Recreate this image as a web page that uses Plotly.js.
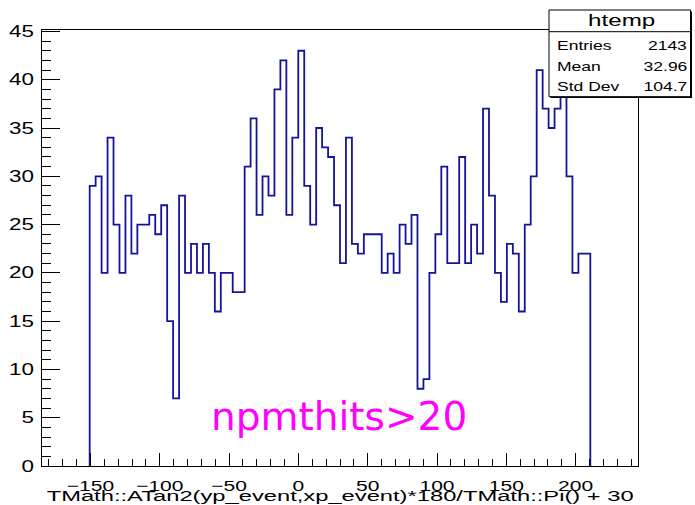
<!DOCTYPE html>
<html><head><meta charset="utf-8">
<script src="https://cdn.plot.ly/plotly-3.0.1.min.js"></script>
<style>html,body{margin:0;padding:0;background:#fff;} #plot{width:695px;height:505px;}</style>
</head><body><div id="plot"></div>
<script>
// ---- histogram definition (ROOT htemp, 100 bins) ----
const xMin = -185, xMax = 245, nBins = 100;
const counts = [
  0,0,0,0,0,0,0,0,
  29,30,20,34,25,20,28,22,25,25,
  26,24,27,15,7,28,20,23,20,23,
  20,16,20,20,18,18,31,36,26,30,
  28,39,42,26,34,43,29,25,35,33,
  32,27,21,34,23,22,24,24,24,20,
  22,20,25,23,26,8,9,20,24,31,
  21,21,32,21,25,22,37,28,20,17,
  23,22,16,25,30,41,37,35,37,40,
  30,20,22,22,
  0,0,0,0,0,0,0,0
];
const yMax = 45.15;
const histName = 'htemp';
const statLabels = ['Entries', 'Mean', 'Std Dev'];
const statValues = ['2143', '32.96', '104.7'];
const xTitle = 'TMath::ATan2(yp_event,xp_event)*180/TMath::Pi() + 30';
const cutLabel = 'npmthits>20';

// ---- outline of the histogram ----
const bw = (xMax - xMin) / nBins;
const first = counts.findIndex(c => c > 0);
let last = counts.length - 1;
while (last > 0 && counts[last] === 0) last--;
const xs = [xMin + first * bw], ys = [0];
for (let i = first; i <= last; i++) { xs.push(xMin + i * bw); ys.push(counts[i]); }
xs.push(xMin + (last + 1) * bw); ys.push(0);

const W = 695, H = 505, ML = 42, MR = 57, MT = 30, MB = 39;
const PW = W - ML - MR, PH = H - MT - MB;
const px = p => (p - ML) / PW;
const py = p => (H - MB - p) / PH;

const font = 'Liberation Sans, Arial, Helvetica, sans-serif';

const data = [{
  type: 'scatter', mode: 'lines', x: xs, y: ys,
  line: {shape: 'hv', color: '#14149b', width: 1.8},
  hoverinfo: 'skip'
}];

const annotations = [
  {text: histName, x: px(621), y: py(21), xanchor: 'center', yanchor: 'middle', font: {family: font, size: 17, color: 'black'}},
];
const statY = [45.7, 66.7, 86.7];
statLabels.forEach((t, i) => annotations.push({text: t, x: px(555), y: py(statY[i]), xanchor: 'left', yanchor: 'middle', font: {family: font, size: 12.5, color: 'black'}}));
statValues.forEach((t, i) => annotations.push({text: t, x: px(688.5), y: py(statY[i]), xanchor: 'right', yanchor: 'middle', font: {family: font, size: 12.5, color: 'black'}}));
annotations.forEach(a => { a.xref = 'paper'; a.yref = 'paper'; a.showarrow = false; });
annotations.push({text: cutLabel, xref: 'paper', yref: 'paper', x: px(209), y: py(416), xanchor: 'left', yanchor: 'middle', showarrow: false, font: {family: 'DejaVu Sans', size: 39, color: '#ff00ff'}});

const shapes = [
  {type: 'rect', xref: 'paper', yref: 'paper', x0: px(550.5), x1: px(692), y0: py(11.5), y1: py(98), fillcolor: 'black', line: {width: 0}, layer: 'above'},
  {type: 'rect', xref: 'paper', yref: 'paper', x0: px(549), x1: px(690.5), y0: py(10), y1: py(96.7), fillcolor: 'white', line: {color: 'black', width: 1}, layer: 'above'},
  {type: 'line', xref: 'paper', yref: 'paper', x0: px(549), x1: px(690.5), y0: py(31.7), y1: py(31.7), line: {color: 'black', width: 1}, layer: 'above'}
];

const layout = {
  width: W, height: H,
  margin: {l: ML, r: MR, t: MT, b: MB, pad: 0},
  paper_bgcolor: 'white', plot_bgcolor: 'white',
  showlegend: false,
  xaxis: {
    range: [xMin, xMax], showline: true, mirror: true, linecolor: 'black', linewidth: 1,
    ticks: 'inside', ticklen: 13, tickwidth: 1, tickcolor: 'black', tick0: 0, dtick: 50,
    minor: {dtick: 10, ticklen: 7, ticks: 'inside', tickcolor: 'black', tickwidth: 1, showgrid: false},
    showgrid: false, zeroline: false, ticklabelstandoff: 2,
    tickfont: {family: font, size: 15, color: 'black'},
    title: {text: xTitle, font: {family: font, size: 15.5, color: 'black'}, standoff: 2}
  },
  yaxis: {
    range: [0, yMax], showline: true, mirror: true, linecolor: 'black', linewidth: 1,
    ticks: 'inside', ticklen: 18, tickwidth: 1, tickcolor: 'black', tick0: 0, dtick: 5,
    minor: {dtick: 1, ticklen: 9, ticks: 'inside', tickcolor: 'black', tickwidth: 1, showgrid: false},
    showgrid: false, zeroline: false, ticklabelstandoff: 4,
    tickfont: {family: font, size: 16, color: 'black'}
  },
  annotations: annotations,
  shapes: shapes
};

Plotly.newPlot('plot', data, layout, {staticPlot: true, responsive: false}).then(gd => {
  const S = 1.4;
  const host = gd.getBoundingClientRect();
  const stretch = (el, factor, anchor, target) => {
    const bb = el.getBBox();
    const w = el.getComputedTextLength();
    if (!w) return;
    const ax = anchor === 'start' ? bb.x : anchor === 'end' ? bb.x + bb.width : bb.x + bb.width / 2;
    el.setAttribute('text-anchor', anchor);
    el.setAttribute('x', ax);
    el.setAttribute('textLength', target || w * factor);
    el.setAttribute('lengthAdjust', 'spacingAndGlyphs');
  };
  const shiftTo = (el, cy) => {
    const r = el.getBoundingClientRect();
    const d = cy - (r.top - host.top + r.height / 2);
    el.setAttribute('y', parseFloat(el.getAttribute('y') || 0) + d);
  };
  gd.querySelectorAll('.xtick text').forEach(el => { shiftTo(el, 485); stretch(el, S, 'middle'); });
  gd.querySelectorAll('.ytick text').forEach(el => stretch(el, S, 'end'));
  gd.querySelectorAll('.g-xtitle text').forEach(el => { shiftTo(el, 495.5); stretch(el, S, 'middle', 587); });
  gd.querySelectorAll('.annotation-text').forEach(el => {
    const t = el.textContent;
    if (t === cutLabel) return;
    if (statLabels.includes(t)) stretch(el, S, 'start');
    else if (statValues.includes(t)) stretch(el, S, 'end');
    else stretch(el, 1.42, 'middle');
  });
});
</script>
</body></html>
